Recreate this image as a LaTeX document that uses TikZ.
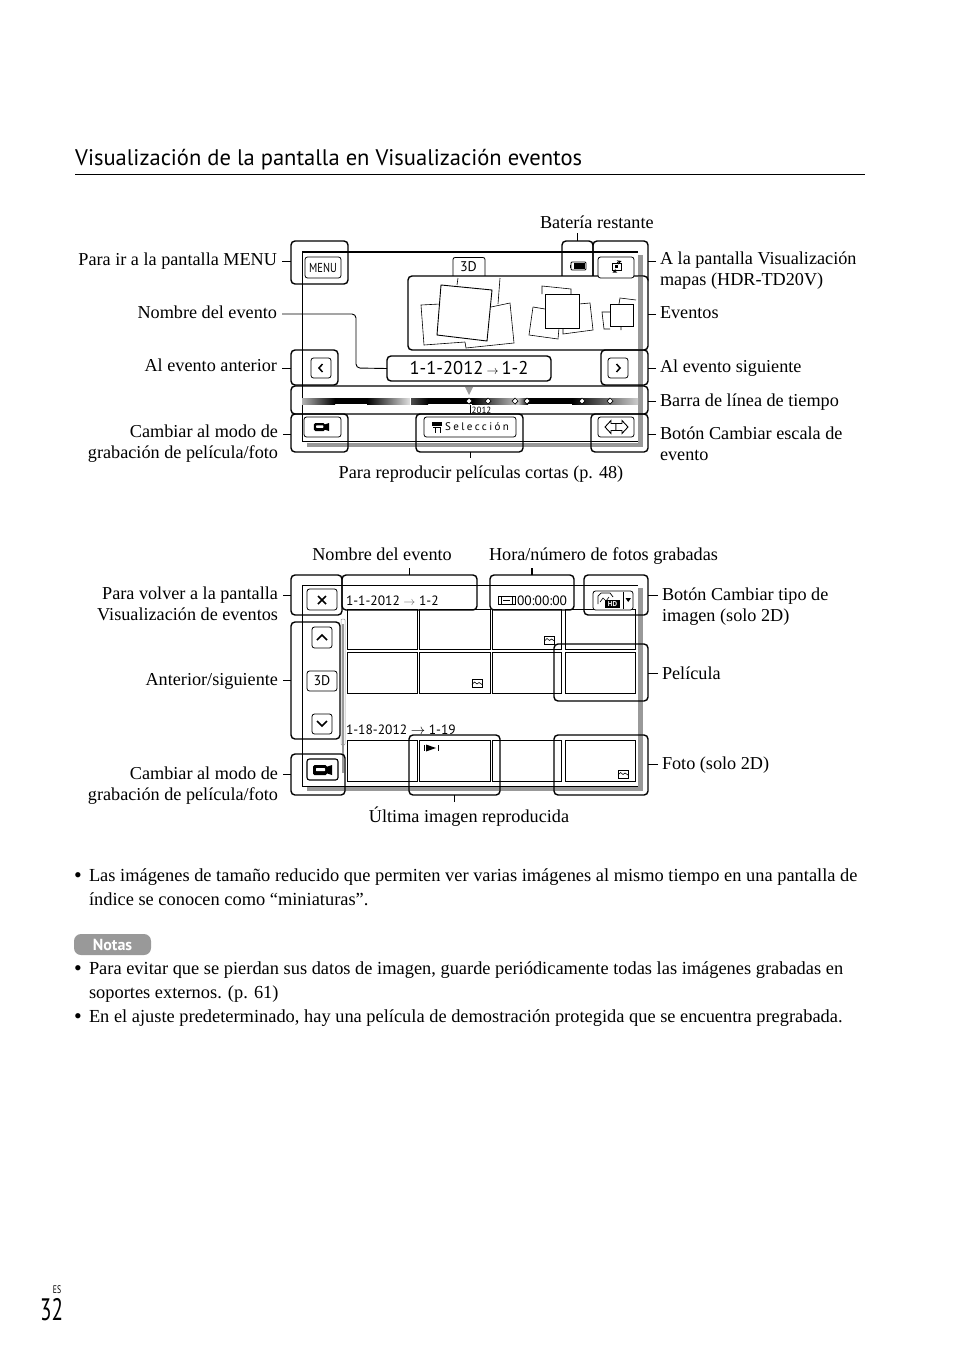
\documentclass[tikz,border=0pt]{standalone}
\usepackage{graphicx}
\usepackage{fontspec}
\setmainfont{Liberation Serif}
\setsansfont{PT Sans}
\newfontfamily\uifont{PT Sans}
\usetikzlibrary{calc}
\definecolor{shgray}{gray}{0.6}
\tikzset{
 callout/.style={draw=black,line width=1.4pt,rounded corners=4pt,inner sep=0pt,outer sep=0pt},
 fcallout/.style={callout,fill=white},
 btn/.style={draw=black,line width=0.8pt,rounded corners=2.5pt,fill=white,inner sep=0pt,outer sep=0pt,font=\uifont\fontsize{10}{12}\selectfont},
 bbtn/.style={btn,line width=1.1pt},
 cell/.style={draw=black,line width=1pt,inner sep=0pt,outer sep=0pt},
 tick/.style={draw=black,line width=0.9pt},
 lbl/.style={inner sep=0pt,outer sep=0pt,font=\fontsize{18.2}{21}\selectfont},
 body/.style={lbl,align=left,font=\fontsize{18.4}{23.6}\selectfont},
 small/.style={inner sep=0pt,outer sep=0pt,font=\uifont\fontsize{13.5}{15}\selectfont},
 scr/.style={draw=black,line width=1pt},
 sh/.style={draw=shgray,line width=4.5pt},
 ph/.style={draw=black,line width=0.6pt},
 phm/.style={draw=black,line width=0.9pt},
}
\newcommand\bx[7][callout]{%
 \pgfmathsetmacro\bw{#5-#3}\pgfmathsetmacro\bh{#6-#4}%
 \pgfmathsetmacro\bcx{(#5+#3)/2}\pgfmathsetmacro\bcy{(#6+#4)/2}%
 \node[#1,minimum width=\bw pt,minimum height=\bh pt] (#2) at (\bcx,\bcy) {#7};}
\newcommand\labL[4]{\node[lbl,anchor=base east] (#1) at (#2,#3) {#4};}
\newcommand\labR[4]{\node[lbl,anchor=base west] (#1) at (#2,#3) {#4};}
\newcommand\labLm[4]{\node[lbl,anchor=north east,align=right] (#1) at (#2,#3) {#4};}
\newcommand\labRm[4]{\node[lbl,anchor=north west,align=left] (#1) at (#2,#3) {#4};}
\newcommand\tickL[3]{\draw[tick] ([xshift=5pt]#1.east |- 0,#3) -- (#2.west |- 0,#3);}
\newcommand\tickR[3]{\draw[tick] ([xshift=-4pt]#1.west |- 0,#3) -- (#2.east |- 0,#3);}
\newcommand\photoicon[2]{\begin{scope}[shift={(#1,#2)}]
 \draw[line width=0.6pt] (-5,-4) rectangle (5,4);
 \draw[line width=0.6pt] (-5,1) -- (-2.5,-1.5) -- (0,0.5) -- (2,-1) -- (5,1);
\end{scope}}
\newcommand\camicon[3]{\begin{scope}[shift={(#1,#2)},scale=#3]
 \fill[black,rounded corners=1.5pt] (-9,-5) rectangle (5,5);
 \fill[black] (4,-3) -- (10,-5) -- (10,5) -- (4,3) -- cycle;
 \fill[white,rounded corners=0.5pt] (-6,-2) rectangle (3,1);
\end{scope}}
\begin{document}
\begin{tikzpicture}[x=1pt,y=-1pt]
\useasboundingbox (0,0) rectangle (954,1357);
\fill[white] (0,0) rectangle (954,1357);

% heading
\node[inner sep=0pt,anchor=base west,font=\uifont\fontsize{22.55}{26}\selectfont] (title) at (75,165) {Visualización de la pantalla en Visualización eventos};
\coordinate (ruleL) at (75,174.5); \coordinate (ruleR) at (865,174.5);
\draw[line width=0.8pt] (ruleL) -- (ruleR);

%%%%% Diagram 1: screen frame
\draw[sh] (640.5,255) -- (640.5,445.2) -- (307,445.2);
\draw[line width=1.8pt] (302,252) -- (638,252);
\draw[scr] (302,252) -- (302,441.5) -- (638,441.5);

% 3D tab
\node[inner sep=0pt,font=\uifont\fontsize{14}{15}\selectfont] (tdlab) at (468.5,267) {3D};
\draw[line width=0.8pt,rounded corners=2pt] (453,276) -- (453,257.5) -- (485,257.5) -- (485,276);

% timeline
\shade[left color=black!30,right color=black] (302,398) rectangle (335,404);
\fill[black] (335,398) rectangle (367,404);
\shade[left color=black,right color=black!12] (367,398) rectangle (410,404);
\shade[left color=black!70,right color=black] (411,398) rectangle (428,404);
\fill[black] (428,398) rectangle (472,404);
\shade[left color=black,right color=black!50] (472,398) rectangle (502,404);
\shade[left color=black!50,right color=black!25] (502,398) rectangle (518,404);
\shade[left color=black!25,right color=black] (518,398) rectangle (528,404);
\fill[black] (528,398) rectangle (572,404);
\shade[left color=black,right color=black!20] (572,398) rectangle (638,404);
\fill[shgray] (465,387) -- (473,387) -- (469,395) -- cycle;
\foreach \dx in {469,488,515,527,582,610}{
 \draw[fill=white,line width=0.7pt] (\dx-3,401) -- (\dx,398) -- (\dx+3,401) -- (\dx,404) -- cycle;}
\draw[line width=0.7pt] (470,405) -- (470,414);
\node[inner sep=0pt,anchor=base west,font=\uifont\fontsize{9}{10}\selectfont] (yr) at (471.5,413) {2012};

% callouts
\bx{cmenu}{291}{241}{348}{284}{}
\bx{cbat}{562}{241}{593}{284}{}
\bx{cswap}{593}{241}{648}{284}{}
\bx[fcallout]{cev}{408}{276}{648}{350}{}
\draw[sh,line width=4.5pt] (640.5,277) -- (640.5,349);
\bx{cprev}{291}{350}{338}{385}{}
\bx{cnext}{601}{350}{648}{385}{}
\bx{ctime}{291}{386}{648}{414}{}
\bx{crec}{291}{414}{348}{452}{}
\bx{csel}{416}{414}{523}{452}{}
\bx{czoom}{591}{414}{648}{452}{}
\bx[fcallout]{cname}{387}{356}{551}{381}{\uifont\fontsize{18.5}{20}\selectfont 1-1-2012\,{\fontsize{13}{13}\selectfont$\rightarrow$}\,1-2}

% buttons
\bx[btn]{bmenu}{305}{257}{341}{278}{\scalebox{0.8}[1]{\fontsize{13}{14}\selectfont MENU}}
\bx[btn]{bswap}{598}{257}{634}{278}{}
\bx[btn]{bprev}{311}{358}{331}{378}{}
\bx[btn]{bnext}{608}{358}{628}{378}{}
\bx[btn]{brec}{304}{417}{341}{437}{}
\bx[btn]{bsel}{424}{417}{516}{437}{\hspace*{14pt}\addfontfeatures{LetterSpace=22}\fontsize{11}{12}\selectfont Selección}
\bx[btn]{bzoom}{598}{417}{634}{437}{}
% battery
\draw[line width=0.8pt,rounded corners=1pt] (571,262) rectangle (586,270);
\fill[black] (574,263) rectangle (585,269);
\draw[line width=1pt] (570,264.5) -- (570,267.5);
% swap icon
\draw[line width=0.8pt] (612.5,263) rectangle (621.5,270);
\fill[black] (615,265) rectangle (618,268);
\draw[line width=0.9pt,-stealth] (617,262.5) -- (621.5,261);
\draw[line width=0.9pt,-stealth] (617,270.5) -- (612.5,272.5);
% chevrons
\draw[line width=1.5pt] (322.5,364) -- (319,368) -- (322.5,372);
\draw[line width=1.5pt] (616.5,364) -- (620,368) -- (616.5,372);
\camicon{321}{427}{0.8}
% film icon in Selección
\fill[black] (432,421.5) rectangle (442,426);
\draw[line width=0.9pt] (433,427) -- (441,427) (435,427) -- (435,433) (440,427) -- (440,433);
% zoom arrows
\draw[line width=0.9pt,fill=white] (605,427) -- (611,420.5) -- (611,423.5) -- (616,423.5) -- (616,430.5) -- (611,430.5) -- (611,433.5) -- cycle;
\draw[line width=0.9pt,fill=white] (628,427) -- (622,420.5) -- (622,423.5) -- (616,423.5) -- (616,430.5) -- (622,430.5) -- (622,433.5) -- cycle;

% photo stacks
\draw[ph] (458,278) -- (457,285) (500,278) -- (498,304);
\draw[ph] (440,304) -- (421,305) -- (424,345) -- (465,342) (465,342) -- (466,348) -- (514,343) -- (510,303) -- (491,307);
\draw[phm] (441,285) -- (492,290) -- (487,341) -- (437,335) -- cycle;
\draw[ph] (542,294) -- (542,286) -- (571,289) -- (571,294) (533,307) -- (529,335) -- (558,339) -- (559,328) (533,307) -- (545,309);
\draw[ph] (579,304) -- (590,303) -- (593,330) -- (563,334) -- (563,328);
\draw[phm,fill=white] (545,294) rectangle (579,328);
\draw[ph] (619,304) -- (620,298) -- (636,300) (610,312) -- (602,312) -- (604,329) -- (610,329) (621,326) -- (621,330);
\draw[phm,fill=white] (610,304) rectangle (633,326);

% labels and ticks, diagram 1
\labR{lbat}{540}{228}{Batería restante}
\draw[tick] (577,233) -- (577,233 |- cbat.north);
\labL{lmenu}{277}{265}{Para ir a la pantalla MENU}
\tickL{lmenu}{cmenu}{261}
\labRm{lswap}{660}{252}{A la pantalla Visualización\\mapas (HDR-TD20V)}
\tickR{lswap}{cswap}{261}
\labL{lname}{277}{318}{Nombre del evento}
\draw[tick,rounded corners=4pt] ([xshift=5pt]lname.east |- 0,314) -- (356,314) -- (356,368) -- (cname.west);
\labR{lev}{660}{318}{Eventos}
\tickR{lev}{cev}{314}
\labL{lprev}{277}{371}{Al evento anterior}
\tickL{lprev}{cprev}{368}
\labR{lnext}{660}{372}{Al evento siguiente}
\tickR{lnext}{cnext}{368}
\labR{lbar}{660}{406}{Barra de línea de tiempo}
\tickR{lbar}{ctime}{401}
\labLm{lrec}{278}{425}{Cambiar al modo de\\grabación de película/foto}
\tickL{lrec}{crec}{434}
\labRm{lzoom}{660}{427}{Botón Cambiar escala de\\evento}
\tickR{lzoom}{czoom}{434}
\node[lbl,anchor=base] (lsel) at (481,478) {Para reproducir películas cortas (p. 48)};
\draw[tick] (470,458) -- (csel.south -| 470,0);

%%%%% Diagram 2: frame
\draw[sh] (640.5,588) -- (640.5,789) -- (307,789);
\draw[scr] (302,585) -- (638,585) (302,585) -- (302,786) -- (638,786);
% thumbnails
\foreach \nm/\xa/\xb in {a/347/417,b/419/490,c/492/561,d/565/635}{
 \bx[cell]{r1\nm}{\xa}{609}{\xb}{649}{}
 \bx[cell]{r2\nm}{\xa}{652}{\xb}{693}{}
 \bx[cell]{r3\nm}{\xa}{740}{\xb}{781}{}
}
% scroll bar
\draw[draw=black!40,line width=0.5pt,rounded corners=1pt,fill=white] (341,619) rectangle (345,745);
\draw[shgray,line width=2.5pt] (343,624) -- (343,773);

\node[small,anchor=base west] (hd1) at (346,605) {1-1-2012 {\fontsize{12}{12}\selectfont\color{black!60}$\rightarrow$} 1-2};
\node[small,anchor=base west] (hd2) at (517,605) {00:00:00};
\node[small,anchor=base west] (hd3) at (346,734) {1-18-2012 {\fontsize{14}{14}\selectfont$\rightarrow$} 1-19};
% film
\draw[line width=0.8pt] (498,596) rectangle (515,604);
\draw[line width=0.8pt] (501,596) -- (501,604) (512,596) -- (512,604);
\draw[line width=0.5pt] (503,600) -- (510,600);

\bx{dx}{291}{575}{342}{615}{}
\bx{dnm}{342}{575}{477}{610}{}
\bx{dtm}{490}{575}{574}{610}{}
\bx{dtp}{584}{575}{648}{615}{}
\bx{dud}{291}{622}{340}{739}{}
\bx{drec}{291}{754}{345}{795}{}
\bx{dmov}{554}{644}{648}{701}{}
\bx{dlast}{409}{735}{500}{795}{}
\bx{dfoto}{554}{735}{648}{795}{}

\bx[btn]{bx2}{307}{589}{337}{610}{}
\draw[line width=1.5pt] (318,596) -- (326,604) (326,596) -- (318,604);
\bx[btn]{bup}{312}{627}{332}{648}{}
\draw[line width=1.5pt] (317,640) -- (322,635) -- (327,640);
\bx[btn]{b3d}{307}{671}{337}{691}{\fontsize{14}{15}\selectfont 3D}
\bx[btn]{bdn}{312}{714}{332}{734}{}
\draw[line width=1.5pt] (317,721) -- (322,726) -- (327,721);
\bx[bbtn]{brec2}{307}{759}{338}{780}{}
\camicon{322}{770}{1}
\bx[btn]{btp}{593}{591}{633}{610}{}
\draw[line width=0.7pt] (623,592) -- (623,609);
\fill[black] (625.5,598) -- (631,598) -- (628.2,602) -- cycle;
\draw[line width=0.7pt] (598,604) -- (598,596) -- (601,593) -- (610,593) -- (613,597);
\draw[line width=0.6pt] (600,602) -- (603,598) -- (606,601) -- (609,597);
\fill[black] (605,600) rectangle (620,608);
\node[inner sep=0pt,text=white,font=\uifont\bfseries\fontsize{7}{8}\selectfont] (hdl) at (612.5,604) {HD};

\photoicon{549.5}{640}
\photoicon{477}{683.5}
\photoicon{623}{774}
% resume-play icon
\draw[line width=1pt] (424,745) -- (424,751) (438,745) -- (438,751);
\fill[black] (426,744.5) -- (436,748) -- (426,751.5) -- cycle;

% labels and ticks, diagram 2
\node[lbl,anchor=base] (lnm2) at (382,560) {Nombre del evento};
\draw[tick] (409,568) -- (dnm.north -| 409,0);
\node[lbl,anchor=base] (lhr) at (603.5,560) {Hora/número de fotos grabadas};
\draw[tick,line width=1.3pt] (532,568) -- (dtm.north -| 532,0);
\labLm{lx}{278}{587}{Para volver a la pantalla\\Visualización de eventos}
\tickL{lx}{dx}{595}
\labRm{ltp}{662}{588}{Botón Cambiar tipo de\\imagen (solo 2D)}
\tickR{ltp}{dtp}{595}
\labL{lud}{278}{685}{Anterior/siguiente}
\tickL{lud}{dud}{680}
\labR{lmov}{662}{679}{Película}
\tickR{lmov}{dmov}{673}
\labR{lfoto}{662}{769}{Foto (solo 2D)}
\tickR{lfoto}{dfoto}{764}
\labLm{lrec2}{278}{767}{Cambiar al modo de\\grabación de película/foto}
\tickL{lrec2}{drec}{774}
\node[lbl,anchor=base] (llast) at (469,822) {Última imagen reproducida};
\draw[tick] (454,802) -- (dlast.south -| 454,0);

%%%%% Text
\node[lbl,anchor=base,font=\fontsize{22}{24}\selectfont] (b1) at (78,882.5) {•};
\node[body,anchor=north west] (t1) at (89,869) {Las imágenes de tamaño reducido que permiten ver varias imágenes al mismo tiempo en una pantalla de\\índice se conocen como “miniaturas”.};
\node[fill=shgray,rounded corners=7pt,inner sep=0pt,minimum width=77pt,minimum height=21pt,text=white,font=\uifont\bfseries\fontsize{16}{18}\selectfont] (notas) at (112.5,944.5) {Notas};
\node[lbl,anchor=base,font=\fontsize{22}{24}\selectfont] (b2) at (78,975.5) {•};
\node[body,anchor=north west] (t2) at (89,962) {Para evitar que se pierdan sus datos de imagen, guarde periódicamente todas las imágenes grabadas en\\soportes externos. (p. 61)};
\node[lbl,anchor=base,font=\fontsize{22}{24}\selectfont] (b3) at (78,1023.5) {•};
\node[body,anchor=north west] (t3) at (89,1010) {En el ajuste predeterminado, hay una película de demostración protegida que se encuentra pregrabada.};
\node[inner sep=0pt,anchor=base,font=\uifont\fontsize{11}{12}\selectfont] (es) at (57,1293) {\scalebox{0.7}[1]{ES}};
\node[inner sep=0pt,anchor=base,font=\uifont\fontsize{31}{34}\selectfont] (pg) at (51.5,1320) {\scalebox{0.68}[1]{32}};
\end{tikzpicture}
\end{document}
